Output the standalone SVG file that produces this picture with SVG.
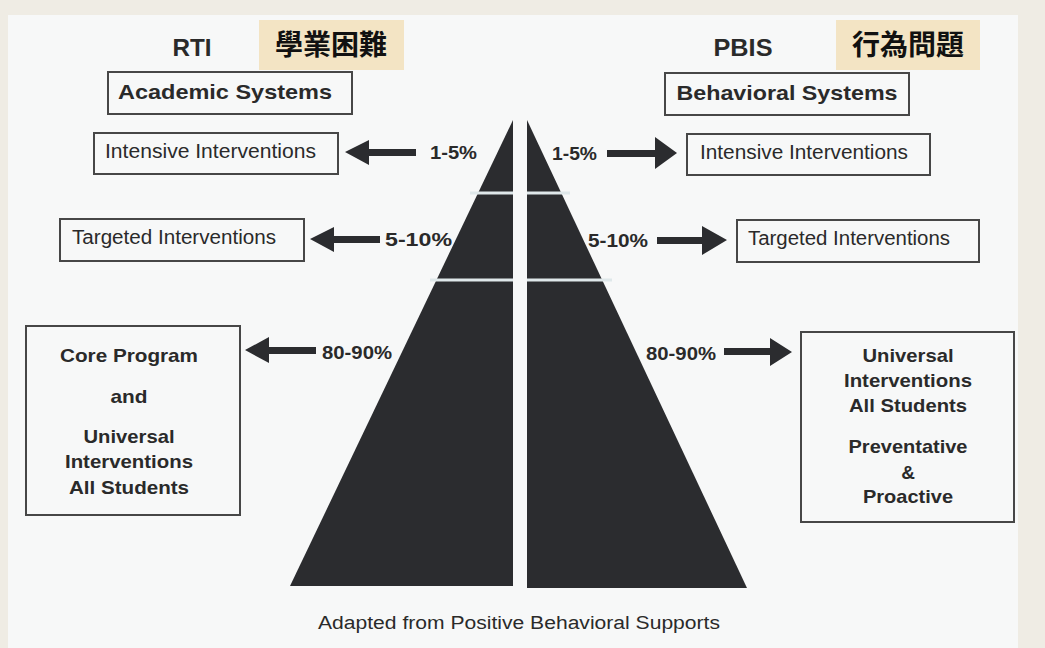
<svg xmlns="http://www.w3.org/2000/svg" width="1045" height="648" viewBox="0 0 1045 648">
  <style>
    .t { font-family: "Liberation Sans", Arial, sans-serif; fill: #2a2a2a; }
    .b { font-weight: bold; }
    .cjk { font-family: "Noto Sans CJK TC", "Noto Sans CJK SC", sans-serif; font-weight: bold; fill: #111; }
    .box { fill: none; stroke: #474747; stroke-width: 2; }
    .tag { fill: #f3e4c4; }
    .pyr { fill: #2b2c2f; }
    .arrow { fill: #2b2c2f; }
    .sep { stroke: #dfe8ea; stroke-width: 3; }
  </style>

  <!-- page background -->
  <rect x="0" y="0" width="1045" height="648" fill="#efece4"/>
  <rect x="8" y="15" width="1010" height="633" fill="#f7f8f8"/>

  <!-- column headings -->
  <g id="rti-heading">
    <text class="t b" x="192" y="56" font-size="23" text-anchor="middle" textLength="39" lengthAdjust="spacingAndGlyphs">RTI</text>
    <rect class="tag" x="259" y="20" width="145" height="50"/>
    <text class="cjk" x="331" y="55" font-size="28" text-anchor="middle">學業困難</text>
  </g>
  <g id="pbis-heading">
    <text class="t b" x="743" y="56" font-size="23" text-anchor="middle" textLength="59" lengthAdjust="spacingAndGlyphs">PBIS</text>
    <rect class="tag" x="836" y="20" width="144" height="50"/>
    <text class="cjk" x="908" y="55" font-size="28" text-anchor="middle">行為問題</text>
  </g>

  <!-- system titles -->
  <g id="academic-systems">
    <rect class="box" x="108" y="72" width="244" height="42"/>
    <text class="t b" x="225" y="99" font-size="21" text-anchor="middle" textLength="214" lengthAdjust="spacingAndGlyphs">Academic Systems</text>
  </g>
  <g id="behavioral-systems">
    <rect class="box" x="665" y="73" width="244" height="42"/>
    <text class="t b" x="787" y="100" font-size="21" text-anchor="middle" textLength="221" lengthAdjust="spacingAndGlyphs">Behavioral Systems</text>
  </g>

  <!-- tier boxes, left -->
  <g id="rti-intensive">
    <rect class="box" x="94" y="133" width="244" height="41"/>
    <text class="t" x="105" y="158" font-size="19.5" textLength="211" lengthAdjust="spacingAndGlyphs">Intensive Interventions</text>
  </g>
  <g id="rti-targeted">
    <rect class="box" x="60" y="219" width="244" height="42"/>
    <text class="t" x="72" y="244" font-size="19.5" textLength="204" lengthAdjust="spacingAndGlyphs">Targeted Interventions</text>
  </g>
  <g id="rti-universal">
    <rect class="box" x="26" y="326" width="214" height="189"/>
    <text class="t b" x="129" y="362" font-size="19" text-anchor="middle" textLength="138" lengthAdjust="spacingAndGlyphs">Core Program</text>
    <text class="t b" x="129" y="403" font-size="19" text-anchor="middle" textLength="37" lengthAdjust="spacingAndGlyphs">and</text>
    <text class="t b" x="129" y="443" font-size="19" text-anchor="middle" textLength="91" lengthAdjust="spacingAndGlyphs">Universal</text>
    <text class="t b" x="129" y="468" font-size="19" text-anchor="middle" textLength="128" lengthAdjust="spacingAndGlyphs">Interventions</text>
    <text class="t b" x="129" y="494" font-size="19" text-anchor="middle" textLength="120" lengthAdjust="spacingAndGlyphs">All Students</text>
  </g>

  <!-- tier boxes, right -->
  <g id="pbis-intensive">
    <rect class="box" x="687" y="134" width="243" height="41"/>
    <text class="t" x="700" y="159" font-size="19.5" textLength="208" lengthAdjust="spacingAndGlyphs">Intensive Interventions</text>
  </g>
  <g id="pbis-targeted">
    <rect class="box" x="737" y="220" width="242" height="42"/>
    <text class="t" x="748" y="245" font-size="19.5" textLength="202" lengthAdjust="spacingAndGlyphs">Targeted Interventions</text>
  </g>
  <g id="pbis-universal">
    <rect class="box" x="801" y="332" width="213" height="190"/>
    <text class="t b" x="908" y="362" font-size="19" text-anchor="middle" textLength="91" lengthAdjust="spacingAndGlyphs">Universal</text>
    <text class="t b" x="908" y="387" font-size="19" text-anchor="middle" textLength="128" lengthAdjust="spacingAndGlyphs">Interventions</text>
    <text class="t b" x="908" y="412" font-size="19" text-anchor="middle" textLength="118" lengthAdjust="spacingAndGlyphs">All Students</text>
    <text class="t b" x="908" y="453" font-size="19" text-anchor="middle" textLength="119" lengthAdjust="spacingAndGlyphs">Preventative</text>
    <text class="t b" x="908" y="479" font-size="19" text-anchor="middle">&amp;</text>
    <text class="t b" x="908" y="503" font-size="19" text-anchor="middle" textLength="90" lengthAdjust="spacingAndGlyphs">Proactive</text>
  </g>

  <!-- split pyramid -->
  <g id="pyramid">
    <polygon class="pyr" points="513,120 513,586 290,586"/>
    <polygon class="pyr" points="527,120 527,588 747,588"/>
    <line class="sep" x1="470" y1="193" x2="513" y2="193"/>
    <line class="sep" x1="527" y1="193" x2="570" y2="193"/>
    <line class="sep" x1="430" y1="280" x2="513" y2="280"/>
    <line class="sep" x1="527" y1="280" x2="612" y2="280"/>
  </g>

  <!-- percentage labels -->
  <g id="percent-labels">
    <text class="t b" x="430" y="159" font-size="18" textLength="47" lengthAdjust="spacingAndGlyphs">1-5%</text>
    <text class="t b" x="385" y="246" font-size="18" textLength="67" lengthAdjust="spacingAndGlyphs">5-10%</text>
    <text class="t b" x="322" y="359" font-size="18" textLength="70" lengthAdjust="spacingAndGlyphs">80-90%</text>
    <text class="t b" x="552" y="160" font-size="18" textLength="45" lengthAdjust="spacingAndGlyphs">1-5%</text>
    <text class="t b" x="588" y="247" font-size="18" textLength="60" lengthAdjust="spacingAndGlyphs">5-10%</text>
    <text class="t b" x="646" y="360" font-size="18" textLength="70" lengthAdjust="spacingAndGlyphs">80-90%</text>
  </g>

  <!-- arrows from each tier to its box -->
  <g id="connectors">
    <polygon class="arrow" points="345,152 369,140 369,149 416,149 416,156 369,156 369,165"/>
    <polygon class="arrow" points="310,239 334,227 334,236 380,236 380,243 334,243 334,252"/>
    <polygon class="arrow" points="245,350 269,337 269,347 316,347 316,354 269,354 269,363"/>
    <polygon class="arrow" points="677,153 655,137 655,150 607,150 607,157 655,157 655,169"/>
    <polygon class="arrow" points="727,240 702,226 702,237 657,237 657,244 702,244 702,255"/>
    <polygon class="arrow" points="792,352 770,338 770,348 724,348 724,355 770,355 770,366"/>
  </g>

  <!-- source note -->
  <text class="t" x="519" y="629" font-size="18" text-anchor="middle" textLength="402" lengthAdjust="spacingAndGlyphs">Adapted from Positive Behavioral Supports</text>
</svg>
